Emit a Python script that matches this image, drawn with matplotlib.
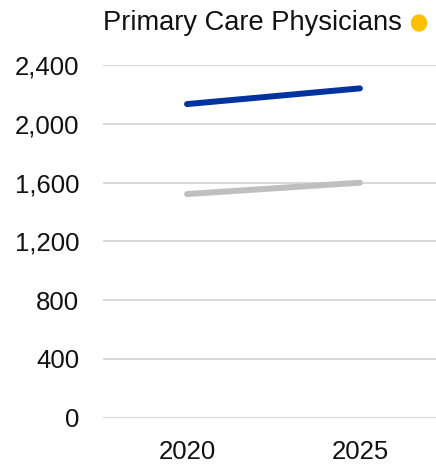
import matplotlib.pyplot as plt
from matplotlib.ticker import FuncFormatter

plt.rcParams['font.family'] = ['Liberation Sans', 'DejaVu Sans']

# data
years = ['2020', '2025']
supply = [2134, 2241]      # blue line
baseline = [1522, 1599]    # gray line
yticks = [0, 400, 800, 1200, 1600, 2000, 2400]
title = 'Primary Care Physicians'

fig = plt.figure(figsize=(4.36, 4.65), dpi=100)
ax = fig.add_axes([103 / 436, (465 - 417.7) / 465, 1 - 103 / 436, (417.7 - 65) / 465])

x = range(len(years))
ax.plot(x, baseline, color='#BFBFBF', lw=4.3, solid_capstyle='round', zorder=3)
ax.plot(x, supply, color='#0033A0', lw=4.3, solid_capstyle='round', zorder=3)

ax.set_ylim(0, 2400)
ax.set_xlim(-0.486, 1.44)
ax.set_yticks(yticks)
ax.yaxis.set_major_formatter(FuncFormatter(lambda v, p: f'{int(v):,}'))
ax.set_xticks(list(x))
ax.set_xticklabels(years)
ax.grid(axis='y', color='#D9D9D9', lw=1.5)
ax.set_axisbelow(True)
for s in ax.spines.values():
    s.set_visible(False)
ax.tick_params(axis='both', length=0, labelsize=18.5, labelcolor='#111111')
ax.tick_params(axis='y', pad=17)
ax.tick_params(axis='x', pad=16)

# title with yellow marker
fig.text(103 / 436, 1 - 23 / 465, title, fontsize=19.6, color='#111111', ha='left', va='center')
fig.patches.append(plt.Circle((419 / 436, 1 - 23 / 465), 7.5 / 436, transform=fig.transFigure,
                              color='#FFC000', figure=fig))

fig.savefig('out.png', dpi=100)
